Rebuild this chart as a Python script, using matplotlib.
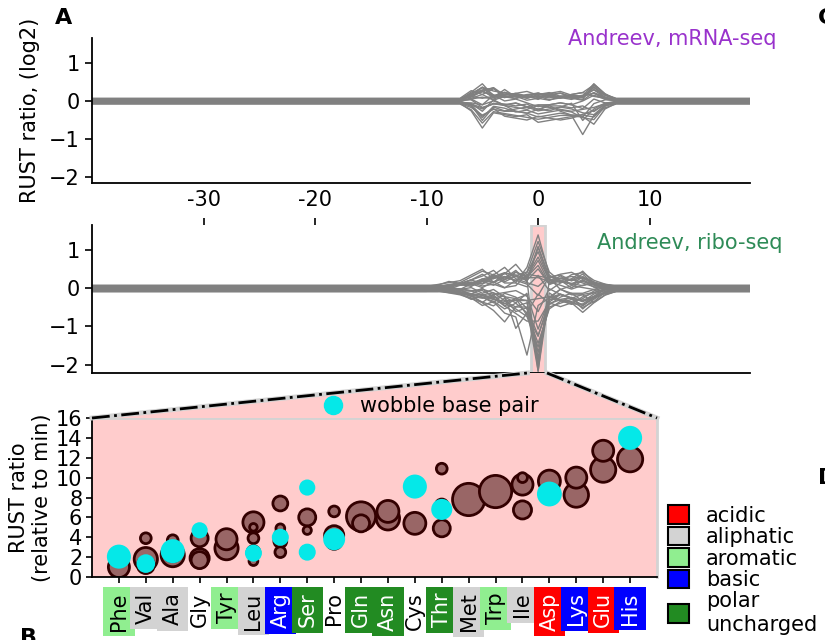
import matplotlib.pyplot as plt
import numpy as np
from matplotlib.patches import Rectangle, Polygon, Patch
from matplotlib.lines import Line2D

plt.rcParams['font.family'] = ['DejaVu Sans']
plt.rcParams['font.size'] = 15

# ---- RUST profiles (log2 ratio by position relative to the codon) ----
positions = np.arange(-40, 20)

# flat level of each profile away from the A-site window
mrna_base = [0.03, -0.06, 0.05, -0.08, 0.0, 0.06, -0.04, 0.02,
             -0.02, 0.07, -0.07, 0.04, -0.03, 0.01, -0.05, 0.03,
             0.05, -0.05, 0.02, -0.01, 0.04, -0.06, 0.0, 0.03]
# deviation from that level inside the window
mrna_window = np.arange(-7, 8)
mrna_rows = [
    [0, .20, .42, .10, .20, .10, .05, .10, .05, .10, .05, .10, .42, .15, 0],
    [0, -.20, -.65, -.25, -.30, -.35, -.30, -.50, -.45, -.40, -.35, -.35, -.55, -.15, 0],
    [0, .15, .30, .05, .25, .05, .10, .15, .10, .05, .10, .05, .30, .10, 0],
    [0, -.15, -.50, -.20, -.25, -.30, -.35, -.40, -.35, -.30, -.30, -.80, -.30, -.10, 0],
    [0, .05, -.10, .15, .00, .05, -.05, -.15, -.10, -.05, -.10, .00, .15, .05, 0],
    [0, .10, .30, .20, .15, .10, .05, .05, .10, .15, .05, .05, .30, .10, 0],
    [0, -.10, -.40, -.10, -.15, -.25, -.20, -.30, -.25, -.20, -.25, -.40, -.45, -.10, 0],
    [0, .05, .15, .00, .10, .10, .00, .05, .00, .10, .05, .00, .20, .05, 0],
    [0, -.05, -.25, .05, -.10, -.15, -.20, -.10, -.15, -.20, -.25, -.20, -.15, -.05, 0],
    [0, .20, .10, .25, .05, .00, .10, .10, .05, .00, .10, .15, .35, .10, 0],
    [0, -.10, -.30, -.15, -.20, -.20, -.25, -.35, -.30, -.25, -.30, -.30, -.35, -.05, 0],
    [0, .10, .20, .10, .05, .15, .10, .00, .15, .05, .00, .10, .25, .05, 0],
    [0, -.05, -.15, -.05, -.05, -.10, -.05, -.20, -.10, -.10, -.15, -.10, -.25, -.05, 0],
    [0, .15, .35, .15, .10, .05, .15, .20, .10, .10, .15, .10, .20, .10, 0],
    [0, .00, -.05, .05, -.05, .00, -.10, -.05, -.05, .00, -.05, -.15, .10, .00, 0],
    [0, .10, .25, .05, .15, .10, .05, .10, .00, .05, .10, .05, .35, .05, 0],
    [0, .05, .20, .30, .10, .15, .20, .10, .15, .20, .10, .05, .25, .10, 0],
    [0, -.05, -.35, -.15, -.35, -.40, -.45, -.35, -.40, -.45, -.40, -.30, -.20, -.05, 0],
    [0, .10, .05, .10, .20, .15, .05, .15, .20, .10, .15, .20, .10, .05, 0],
    [0, -.10, -.20, -.05, -.10, -.05, -.15, -.25, -.20, -.15, -.05, -.50, -.20, -.05, 0],
    [0, .15, .25, .30, .05, .10, .10, .05, .10, .05, .05, .00, .40, .15, 0],
    [0, -.05, -.45, -.10, -.20, -.15, -.10, -.15, -.20, -.10, -.15, -.25, -.30, -.05, 0],
    [0, .05, .10, .05, .15, .20, .10, .20, .15, .20, .10, .15, .20, .05, 0],
    [0, .00, -.20, -.10, -.15, -.30, -.35, -.25, -.15, -.30, -.40, -.45, -.10, .00, 0],
]

ribo_base = [0.05, -0.05, 0.02, -0.08, 0.07, -0.03, 0.0, -0.06, 0.04, -0.02,
             0.06, -0.07, 0.01, -0.04, 0.03, -0.01, 0.08, -0.09, 0.05, -0.05,
             0.02, -0.04, 0.06, -0.06, 0.0, 0.03, -0.08, 0.07, -0.02, 0.04]
ribo_window = np.arange(-9, 8)
ribo_rows = [
    [.05, .10, .15, .30, .45, .20, .35, .10, .50, 1.35, .30, .10, .20, .40, .10, .05, 0],
    [0, -.05, -.10, -.20, -.40, -.30, -.60, -.70, -1.70, -.40, -.20, -.10, -.20, -.30, -.10, 0, 0],
    [0, .05, .10, .20, .10, .35, .15, .30, .20, -2.20, .20, .15, .10, .05, .15, 0, 0],
    [.05, .10, .05, -.10, -.30, -.50, -.80, -.40, -.30, -1.60, -.30, -.40, -.30, -.55, -.30, -.10, 0],
    [0, 0, .05, .15, .30, .10, .20, .40, .10, 1.00, .20, .30, .35, .20, .05, 0, 0],
    [0, -.05, -.10, -.15, -.20, -.35, -.10, -.20, -.50, -1.20, -.40, -.20, -.10, -.30, -.20, 0, 0],
    [0, .05, .10, .05, .20, .15, .30, .20, .30, .60, .10, .20, .10, .30, .10, 0, 0],
    [0, 0, -.05, -.10, -.10, -.20, -.40, -.60, -.80, -.80, -.30, -.10, -.20, -.40, -.20, -.05, 0],
    [0, .05, .05, .10, .20, .30, .10, .10, .00, .30, -.10, .10, .20, .10, 0, 0, 0],
    [0, -.05, -.05, -.05, -.15, -.10, -.30, -.30, -.30, -2.00, -.10, -.30, -.40, -.20, -.10, 0, 0],
    [0, 0, .05, .10, .05, .20, .25, .15, .35, .90, .15, .10, .30, .35, .15, .05, 0],
    [0, -.05, -.10, -.20, -.30, -.10, -.40, -.20, -.10, -1.00, -.20, .05, -.10, -.10, -.30, -.10, 0],
    [0, 0, .10, .15, .05, .10, .00, .20, .10, -.20, .30, .20, .00, .20, .10, 0, 0],
    [0, 0, -.05, -.10, -.20, -.30, -.50, -.35, -.60, -1.40, -.50, -.30, -.20, -.50, -.25, -.05, 0],
    [0, .05, .05, .10, .15, .05, .20, .30, .40, 1.20, .40, .15, .10, .15, .05, 0, 0],
    [0, -.05, -.10, -.20, -.25, -.15, -.10, -.05, -.20, -.60, .00, -.15, -.25, -.15, -.10, 0, 0],
    [0, .10, .05, .00, .10, .20, .30, .55, .20, .20, .10, .00, -.10, .00, .05, 0, 0],
    [0, 0, -.05, -.05, -.10, -.20, -.25, -.40, -.40, -1.80, -.20, -.20, -.15, -.25, -.15, -.05, 0],
    [0, .05, .10, .25, .40, .30, .50, .20, .10, .00, .25, .30, .15, .25, .10, .05, 0],
    [0, -.05, .00, -.10, .05, -.20, -.15, -1.00, -.60, -.10, -.35, -.25, -.30, -.45, -.30, -.05, 0],
    [0, .05, .10, .20, .30, .45, .20, .40, .30, .80, .20, .25, .20, .35, .10, 0, 0],
    [0, -.05, -.10, -.25, -.15, -.25, -.35, -.50, -.70, -1.50, -.45, -.35, -.25, -.40, -.20, -.05, 0],
    [0, 0, .05, .05, .15, .25, .35, .25, .15, .45, .05, .20, .25, .20, .10, 0, 0],
    [0, -.05, -.05, -.15, -.30, -.40, -.20, -.55, -.45, -2.10, -.15, -.25, -.35, -.35, -.15, -.05, 0],
    [0, .05, .10, .10, .25, .15, .40, .35, .25, 1.10, .30, .25, .20, .30, .15, .05, 0],
    [0, 0, -.05, -.10, -.05, -.15, -.25, -.30, -.35, -.30, -.25, -.35, -.40, -.30, -.10, 0, 0],
    [0, .05, .05, .20, .10, .25, .10, .15, .45, .40, .35, .05, .15, .10, .05, 0, 0],
    [0, -.05, -.10, -.05, -.20, -.10, -.30, -.45, -.20, -1.90, -.30, -.10, -.20, -.20, -.10, 0, 0],
    [0, 0, .10, .15, .20, .35, .25, .45, .30, .75, .15, .35, .10, .25, .05, 0, 0],
    [0, -.05, -.05, -.10, -.10, -.25, -.45, -.30, -.75, -1.30, -.35, -.20, -.30, -.35, -.25, -.05, 0],
]

# ---- codon RUST ratios at the A-site (relative to min) ----
amino_acids = ['Phe', 'Val', 'Ala', 'Gly', 'Tyr', 'Leu', 'Arg', 'Ser', 'Pro', 'Gln',
               'Asn', 'Cys', 'Thr', 'Met', 'Trp', 'Ile', 'Asp', 'Lys', 'Glu', 'His']
aa_class = ['aromatic', 'aliphatic', 'aliphatic', None, 'aromatic', 'aliphatic', 'basic',
            'polar', None, 'polar', 'polar', None, 'polar', 'aliphatic', 'aromatic',
            'aliphatic', 'acidic', 'basic', 'acidic', 'basic']

codon_aa = ['Phe', 'Phe', 'Val', 'Val', 'Val', 'Val', 'Ala', 'Ala', 'Ala', 'Ala',
            'Gly', 'Gly', 'Gly', 'Gly', 'Tyr', 'Tyr',
            'Leu', 'Leu', 'Leu', 'Leu', 'Leu', 'Leu', 'Arg', 'Arg', 'Arg', 'Arg', 'Arg', 'Arg',
            'Ser', 'Ser', 'Ser', 'Ser', 'Ser', 'Pro', 'Pro', 'Pro', 'Pro', 'Gln', 'Gln',
            'Asn', 'Asn', 'Cys', 'Cys', 'Thr', 'Thr', 'Thr', 'Thr', 'Met', 'Trp',
            'Ile', 'Ile', 'Ile', 'Asp', 'Asp', 'Lys', 'Lys', 'Glu', 'Glu', 'His', 'His']
codon_ratio = [1.0, 2.05, 3.9, 1.8, 1.2, 1.35, 3.7, 2.2, 2.5, 2.6,
               3.9, 1.9, 1.7, 4.7, 3.8, 2.9,
               5.5, 5.0, 3.9, 2.5, 1.6, 2.4, 7.4, 4.9, 3.6, 2.5, 4.4, 4.0,
               6.0, 4.7, 2.5, 9.0, 2.5, 6.6, 4.2, 3.6, 3.8, 6.1, 5.4,
               6.6, 5.9, 5.4, 9.1, 10.9, 7.2, 4.9, 6.8, 7.8, 8.6,
               10.0, 9.3, 6.75, 9.65, 8.35, 10.0, 8.25, 12.7, 10.8, 11.85, 14.0]
codon_size = [230, 300, 60, 280, 150, 180, 60, 280, 190, 300,
              150, 190, 150, 135, 230, 280,
              230, 30, 60, 85, 40, 150, 115, 40, 85, 60, 50, 150,
              150, 35, 85, 135, 150, 60, 190, 135, 250, 440, 150,
              250, 280, 250, 300, 60, 85, 150, 230, 540, 540,
              50, 230, 170, 250, 320, 230, 310, 230, 330, 330, 300]
codon_wobble = [0, 1, 0, 0, 0, 1, 0, 0, 0, 1,
                0, 0, 0, 1, 0, 0,
                0, 0, 0, 0, 0, 1, 0, 0, 0, 0, 0, 1,
                0, 0, 0, 1, 1, 0, 0, 0, 1, 0, 0,
                0, 0, 0, 1, 0, 0, 0, 1, 0, 0,
                0, 0, 0, 0, 1, 0, 0, 0, 0, 0, 1]

class_names = ['acidic', 'aliphatic', 'aromatic', 'basic', 'polar']
class_labels = ['acidic', 'aliphatic', 'aromatic', 'basic', 'polar\nuncharged']
class_colors = {'acidic': 'red', 'aliphatic': 'lightgrey', 'aromatic': 'lightgreen',
                'basic': 'blue', 'polar': 'forestgreen'}
class_text = {'acidic': 'white', 'aliphatic': 'black', 'aromatic': 'black',
              'basic': 'white', 'polar': 'white'}

PINK = '#ffcccc'
BROWN = '#996666'
CYAN = '#05e8e8'
W, H = 825, 640


def profile(base, window, row):
    y = np.full(len(positions), base, dtype=float)
    i0 = int(np.searchsorted(positions, window[0]))
    y[i0:i0 + len(row)] += np.array(row)
    return y


def style_axes(ax):
    ax.spines['top'].set_visible(False)
    ax.spines['right'].set_visible(False)
    for s in ('left', 'bottom'):
        ax.spines[s].set_linewidth(1.3)
    ax.tick_params(axis='y', direction='out', length=5, width=1.2, pad=4)


fig = plt.figure(figsize=(W / 100, H / 100), dpi=100)

# panel A, mRNA-seq
ax1 = fig.add_axes([92 / W, 1 - 183 / H, 658 / W, 145 / H])
for b, r in zip(mrna_base, mrna_rows):
    ax1.plot(positions, profile(b, mrna_window, r), color='gray', lw=1)
ax1.set_xlim(-40, 19)
ax1.set_ylim(-2.15, 1.65)
ax1.set_yticks([1, 0, -1, -2])
ax1.tick_params(axis='x', bottom=False, labelbottom=False)
style_axes(ax1)
ax1.set_ylabel('RUST ratio, (log2)')
ax1.yaxis.set_label_coords(-(92 - 40) / 658, 0.5)
ax1.text(1.04, 0.99, 'Andreev, mRNA-seq', color='darkorchid', ha='right', va='center',
         transform=ax1.transAxes)

# ribo-seq
ax2 = fig.add_axes([92 / W, 1 - 373 / H, 658 / W, 148 / H])
y2min, y2max = -2.22, 1.66
ax2.add_patch(Rectangle((-0.6, y2min), 1.2, y2max - y2min, facecolor=PINK,
                        edgecolor='lightgrey', lw=2, zorder=1))
for b, r in zip(ribo_base, ribo_rows):
    ax2.plot(positions, profile(b, ribo_window, r), color='gray', lw=1, zorder=2)
ax2.set_xlim(-40, 19)
ax2.set_ylim(y2min, y2max)
ax2.set_yticks([1, 0, -1, -2])
ax2.set_xticks([-30, -20, -10, 0, 10])
ax2.set_xticklabels(['-30', '-20', '-10', '0', '10'])
ax2.xaxis.tick_top()
ax2.tick_params(axis='x', top=True, bottom=False, labeltop=True, labelbottom=False,
                direction='out', length=5, width=1.2, pad=6)
style_axes(ax2)
ax2.text(1.05, 0.88, 'Andreev, ribo-seq', color='seagreen', ha='right', va='center',
         transform=ax2.transAxes)

# codon bubbles
ax3 = fig.add_axes([92 / W, 1 - 577 / H, 565 / W, 159 / H])
ax3.set_facecolor(PINK)
xpos = {aa: i + 1 for i, aa in enumerate(amino_acids)}
cx = np.array([xpos[a] for a in codon_aa])
cy = np.array(codon_ratio)
cs = np.array(codon_size)
wb = np.array(codon_wobble) == 1
order = np.argsort(-cs[~wb])
ax3.scatter(cx[~wb][order], cy[~wb][order], s=cs[~wb][order], color=BROWN,
            edgecolor='#330000', linewidth=2, zorder=2)
ax3.scatter(cx[wb], cy[wb], s=cs[wb], color=CYAN, edgecolor='none', zorder=3)
ax3.set_xlim(0, 21)
ax3.set_ylim(0, 16)
ax3.set_yticks(np.arange(0, 17, 2))
ax3.set_xticks(np.arange(1, 21))
ax3.set_xticklabels(amino_acids, rotation=90)
ax3.tick_params(axis='x', direction='out', length=4, width=1.2, pad=7)
ax3.tick_params(axis='y', direction='out', length=4, width=1.2, pad=3)
for s in ('left', 'bottom'):
    ax3.spines[s].set_linewidth(1.3)
for s in ('top', 'right'):
    ax3.spines[s].set_color('lightgrey')
    ax3.spines[s].set_linewidth(2)
for lab, cls in zip(ax3.get_xticklabels(), aa_class):
    if cls is not None:
        lab.set_bbox(dict(facecolor=class_colors[cls], edgecolor='none', pad=4))
        lab.set_color(class_text[cls])
ax3.set_ylabel('RUST ratio\n(relative to min)')
ax3.yaxis.set_label_coords(-(92 - 52) / 565, 0.5)

# zoom wedge between the highlighted codon and the bubble panel
inv = fig.transFigure.inverted()
pa = inv.transform(ax2.transData.transform((-0.95, y2min)))
pb = inv.transform(ax2.transData.transform((0.8, y2min)))
pc = inv.transform(ax3.transAxes.transform((1, 1)))
pd = inv.transform(ax3.transAxes.transform((0, 1)))
fig.patches.append(Polygon([pa, pb, pc, pd], closed=True, facecolor=PINK,
                           edgecolor='none', transform=fig.transFigure, zorder=1))
for p, q in ((pd, pa), (pb, pc)):
    fig.add_artist(Line2D([p[0], q[0]], [p[1], q[1]], color='lightgrey', lw=3.5,
                          transform=fig.transFigure, zorder=2))
    fig.add_artist(Line2D([p[0], q[0]], [p[1], q[1]], color='black', lw=2, ls='-.',
                          transform=fig.transFigure, zorder=3))

fig.legend(handles=[Line2D([], [], marker='o', ls='none', color=CYAN, markersize=13)],
           labels=['wobble base pair'], loc='center left',
           bbox_to_anchor=(314 / W, 1 - 406 / H), frameon=False, borderaxespad=0,
           handlelength=1.0, handletextpad=0.8)

fig.legend(handles=[Patch(facecolor=class_colors[c], edgecolor='black', lw=1.5)
                    for c in class_names],
           labels=class_labels, loc='upper left', bbox_to_anchor=(660 / W, 1 - 497 / H),
           frameon=False, borderaxespad=0, handlelength=1.0, handleheight=1.0,
           handletextpad=0.8, labelspacing=0.05)

# panel letters (other panels of the source figure, cut at the edge)
fig.text(64 / W, 1 - 18 / H, 'A', fontsize=16, fontweight='bold', ha='center', va='center')
fig.text(28 / W, 1 - 638 / H, 'B', fontsize=16, fontweight='bold', ha='center', va='center')
fig.text(818 / W, 1 - 18 / H, 'C', fontsize=16, fontweight='bold', ha='left', va='center')
fig.text(818 / W, 1 - 478 / H, 'D', fontsize=16, fontweight='bold', ha='left', va='center')

fig.savefig('out.png', dpi=100)
